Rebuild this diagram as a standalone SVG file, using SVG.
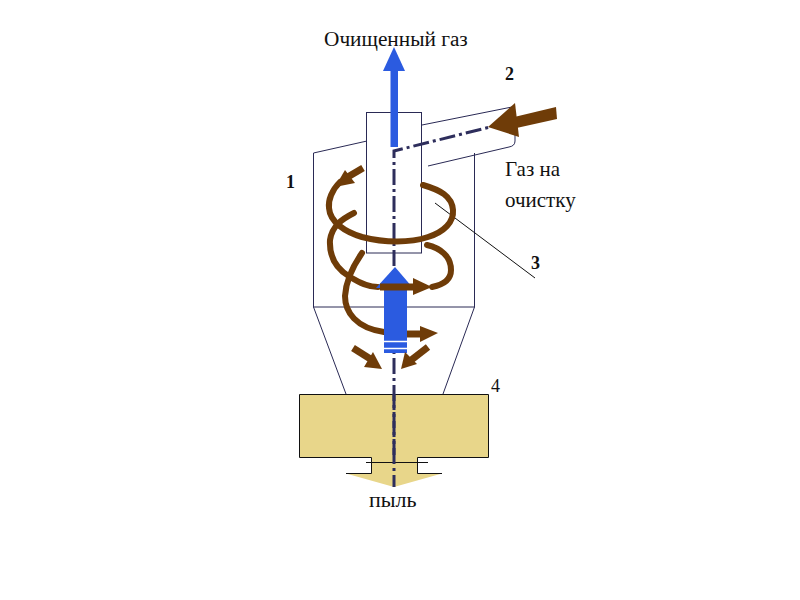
<svg xmlns="http://www.w3.org/2000/svg" width="800" height="600" viewBox="0 0 800 600">
<style>
.t{font-family:"Liberation Serif",serif;fill:#111}
.b{font-weight:bold;font-size:18px}
.l{fill:none;stroke:#2a2a55;stroke-width:1}
.k{fill:none;stroke:#111;stroke-width:1}
.c{fill:none;stroke:#6f3c08;stroke-width:6;stroke-linecap:round;stroke-linejoin:round}
.s{fill:none;stroke:#6f3c08;stroke-width:7}
.h{fill:#6f3c08}
.bl{fill:#2b5be0}
.ax{fill:none;stroke:#2e2e5c;stroke-width:3;stroke-dasharray:16 4 3 4}
</style>
<rect width="800" height="600" fill="#fff"/>
<g id="cyclone-body">
<path class="l" d="M313.500 307V153L367 141M474.500 307V153M313 307H475M313.500 307L346 394M474.500 307L443 394"/>
</g>
<g id="inlet-duct">
<path class="l" d="M422 125L512 107M428 166L509 147Q515 146 515 141V135"/>
</g>
<g id="inner-pipe">
<rect class="l" x="366.500" y="112.500" width="55" height="140.500"/>
</g>
<g id="hopper-bin">
<path d="M299.500 394.500H488.500V457.500H417.500V473.500H442L394 487L346 473.500H371.500V457.500H299.500Z" fill="#e8d68a"/>
<path class="k" d="M371.500 457.500H299.500V394.500H488.500V457.500H417.500V473.500H442M371.500 457.500V473.500H346M366 462.500H428"/>
</g>
<g id="connectors">
<path class="ax" d="M394 455V151L494 126"/>
<path class="ax" d="M394 394V487"/>
<path class="k" d="M435 203L535 278"/>
<path class="c" d="M340 182C332 190 328 200 329 208C330 222 345 232 362 237C385 243 410 243 428 237C444 232 454 222 453 210C452 196 440 190 423 185"/>
<path class="c" d="M354 213C342 219 332 226 330 240C329 258 338 270 350 277C360 283 368 287 378 287"/>
<path class="c" d="M432 287C442 285 451 281 451 270C451 256 440 248 427 245"/>
<path class="c" d="M362 253C353 266 346 280 345 296C345 312 356 328 384 332"/>
<polygon class="h" points="556,107 557,119 512,129 510,118"/>
<polygon class="h" points="488,127 515,103 519,137"/>
<path class="s" d="M363 168L346 178"/>
<polygon class="h" points="335,187 345,170 355,183"/>
<rect class="bl" x="384" y="288" width="23" height="65"/>
<polygon class="bl" points="395,267 376,288 413,288"/>
<path d="M384 341.500H407M384 348.500H407" stroke="#fff" stroke-width="1.500" fill="none"/>
<path class="s" d="M380 287H415"/>
<polygon class="h" points="413,278 432,287 413,295"/>
<path class="s" d="M407 334H422"/>
<polygon class="h" points="420,326 438,333 420,342"/>
<path class="s" d="M353 348L372 360"/>
<polygon class="h" points="382,369 364,367 373,352"/>
<path class="s" d="M428 347L410 361"/>
<polygon class="h" points="401,369 405,352 417,364"/>
<rect class="bl" x="390.500" y="70" width="7.500" height="77"/>
<polygon class="bl" points="394,47 383,71 405,71"/>
</g>
<g id="labels">
<text class="t" x="324" y="46" font-size="21.300">Очищенный газ</text>
<text class="t b" x="505" y="80">2</text>
<text class="t b" x="286" y="188">1</text>
<text class="t b" x="531" y="269">3</text>
<text class="t" x="491" y="392" font-size="18">4</text>
<text class="t" x="505" y="176" font-size="21">Газ на</text>
<text class="t" x="505" y="207" font-size="21">очистку</text>
<text class="t" x="369" y="507" font-size="22">пыль</text>
</g>
</svg>
